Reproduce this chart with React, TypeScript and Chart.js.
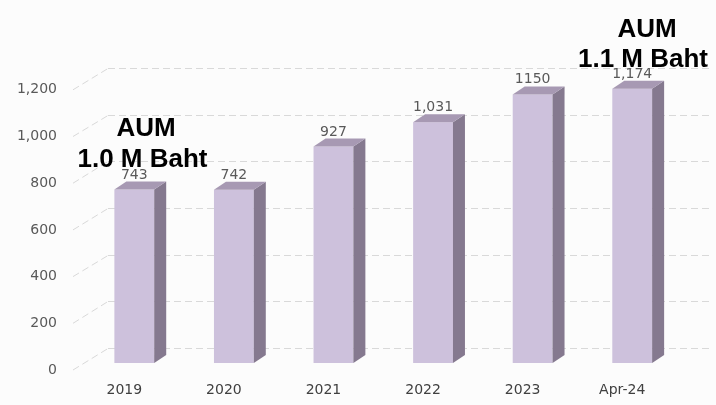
import React, { useEffect, useRef } from 'react';
import { Chart, registerables } from 'chart.js';

Chart.register(...registerables);

const categories = ['2019', '2020', '2021', '2022', '2023', 'Apr-24'];
const aumValues = [743, 742, 927, 1031, 1150, 1174];
const valueLabels = ['743', '742', '927', '1,031', '1150', '1,174'];
const yTicks = [0, 200, 400, 600, 800, 1000, 1200];
const noteLeft = ['AUM', '1.0 M Baht'];
const noteRight = ['AUM', '1.1 M Baht'];

const FRONT = '#cdc1dc';
const TOP = '#a799b3';
const SIDE = '#85798f';
const DX = 12;
const DY = 8;

const bgPlugin = {
  id: 'bg',
  beforeDraw(chart: any) {
    const { ctx, width, height } = chart;
    ctx.save();
    ctx.fillStyle = '#fcfcfc';
    ctx.fillRect(0, 0, width, height);
    ctx.restore();
  },
};

const gridPlugin = {
  id: 'grid3d',
  beforeDatasetsDraw(chart: any) {
    const { ctx, chartArea } = chart;
    const y = chart.scales.y;
    ctx.save();
    ctx.strokeStyle = '#d9d9d9';
    ctx.lineWidth = 1;
    ctx.setLineDash([7, 4]);
    const xb = chartArea.left + 23.5;
    const xf = chartArea.left - 11.5;
    yTicks.forEach((v) => {
      const p = y.getPixelForValue(v);
      const yb = Math.round(p - 15) + 0.5;
      ctx.beginPath();
      ctx.moveTo(xb, yb);
      ctx.lineTo(chartArea.right + 30, yb);
      ctx.stroke();
      ctx.beginPath();
      ctx.moveTo(xf, p + 7);
      ctx.lineTo(xb, yb);
      ctx.stroke();
    });
    ctx.restore();
  },
};

const bar3dPlugin = {
  id: 'bar3d',
  afterDatasetsDraw(chart: any) {
    const { ctx } = chart;
    const meta = chart.getDatasetMeta(0);
    ctx.save();
    meta.data.forEach((bar: any, i: number) => {
      const { x, y, base, width } = bar.getProps(['x', 'y', 'base', 'width'], true);
      const l = x - width / 2;
      const r = x + width / 2;
      ctx.fillStyle = SIDE;
      ctx.beginPath();
      ctx.moveTo(r, y);
      ctx.lineTo(r + DX, y - DY);
      ctx.lineTo(r + DX, base - DY);
      ctx.lineTo(r, base);
      ctx.closePath();
      ctx.fill();
      ctx.fillStyle = TOP;
      ctx.beginPath();
      ctx.moveTo(l, y);
      ctx.lineTo(l + DX, y - DY);
      ctx.lineTo(r + DX, y - DY);
      ctx.lineTo(r, y);
      ctx.closePath();
      ctx.fill();
      ctx.fillStyle = '#595959';
      ctx.font = '14px "DejaVu Sans"';
      ctx.textAlign = 'center';
      ctx.textBaseline = 'alphabetic';
      ctx.fillText(valueLabels[i], x, y - 11);
    });
    ctx.restore();
  },
};

const notesPlugin = {
  id: 'notes',
  afterDraw(chart: any) {
    const { ctx } = chart;
    ctx.save();
    ctx.fillStyle = '#000000';
    ctx.font = 'bold 26px "Liberation Sans", Arial, sans-serif';
    ctx.textAlign = 'center';
    ctx.textBaseline = 'alphabetic';
    ctx.fillText(noteLeft[0], 146, 136);
    ctx.fillText(noteLeft[1], 142.5, 167);
    ctx.fillText(noteRight[0], 647, 37);
    ctx.fillText(noteRight[1], 643, 67);
    ctx.restore();
  },
};

export default function App() {
  const ref = useRef<HTMLCanvasElement | null>(null);
  useEffect(() => {
    if (!ref.current) return;
    const chart = new Chart(ref.current, {
      type: 'bar',
      data: {
        labels: categories,
        datasets: [
          {
            data: aumValues,
            backgroundColor: FRONT,
            borderWidth: 0,
            barPercentage: 0.4,
            categoryPercentage: 1,
            clip: false as any,
          },
        ],
      },
      options: {
        responsive: false,
        animation: false,
        layout: { padding: { top: 82.8, right: 34, bottom: 0, left: 0 } },
        plugins: { legend: { display: false }, tooltip: { enabled: false } },
        scales: {
          x: {
            grid: { display: false, drawTicks: false },
            border: { display: false },
            ticks: {
              color: '#404040',
              font: { family: 'DejaVu Sans', size: 14 },
              padding: 19,
              labelOffset: -10,
              maxRotation: 0,
            },
            afterFit: (s: any) => {
              s.height = 42;
            },
          },
          y: {
            min: 0,
            max: 1200,
            grid: { display: false, drawTicks: false },
            border: { display: false },
            ticks: {
              stepSize: 200,
              color: '#595959',
              font: { family: 'DejaVu Sans', size: 14 },
              padding: 27.5,
              labelOffset: 7,
              callback: (v: any) => Number(v).toLocaleString('en-US'),
            },
            afterFit: (s: any) => {
              s.width = 84.5;
            },
          },
        },
      },
      plugins: [bgPlugin, gridPlugin, bar3dPlugin, notesPlugin],
    });
    return () => chart.destroy();
  }, []);
  return (
    <div style={{ position: 'fixed', left: 0, top: 0, width: 716, height: 405 }}>
      <canvas ref={ref} width={716} height={405} style={{ display: 'block' }} />
    </div>
  );
}
